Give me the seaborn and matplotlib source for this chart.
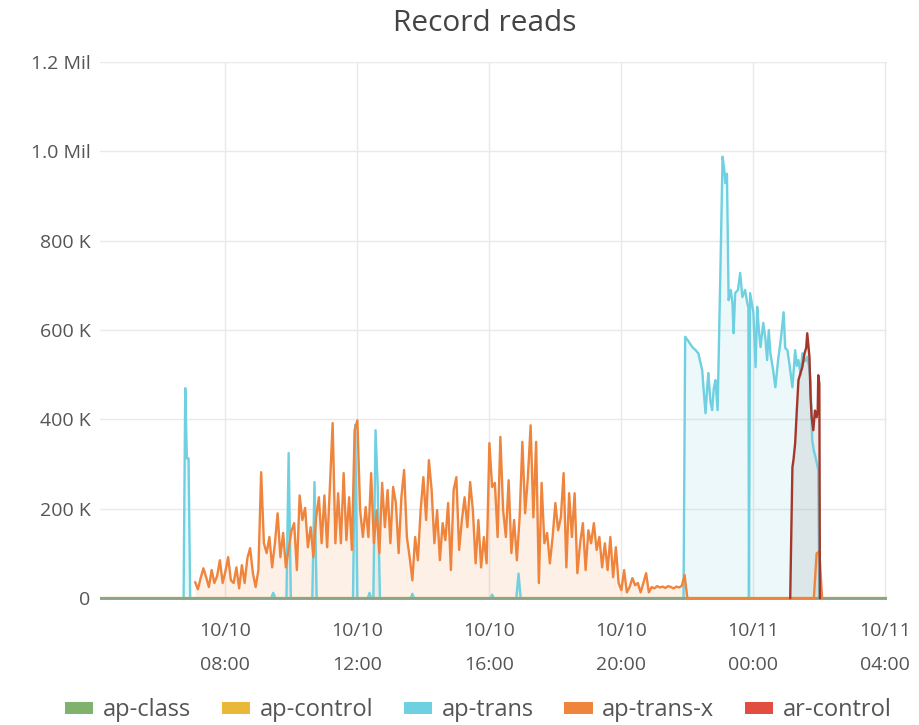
import matplotlib
matplotlib.use("Agg")
import matplotlib.pyplot as plt
import matplotlib.dates as mdates
from matplotlib.patches import Patch
from matplotlib.ticker import FixedLocator, FixedFormatter
import pandas as pd
import seaborn as sns

# ---------------- data ----------------
TITLE = "Record reads"
SERIES = ["ap-class", "ap-control", "ap-trans", "ap-trans-x", "ar-control"]
LEGEND_COLORS = ["#7eb26d", "#eab839", "#6ed0e0", "#ef843c", "#e24d42"]

Y_TICKS = [0, 200000, 400000, 600000, 800000, 1000000, 1200000]
Y_TICK_LABELS = ["0", "200 K", "400 K", "600 K", "800 K", "1.0 Mil", "1.2 Mil"]

RANGE = ["10/10 04:12", "10/11 04:03"]

# ap-class / ap-control: flat at zero over the whole range (values in K)
flat_times = ["10/10 04:12", "10/11 04:03"]
ap_class_k = [0, 0]
ap_control_k = [0, 0]

# ap-trans: daytime spikes (K)
trans_day_times = ["10/10 04:12", "10/10 06:44", "10/10 06:47", "10/10 06:50", "10/10 06:53",
                   "10/10 06:56", "10/10 09:23", "10/10 09:27", "10/10 09:31", "10/10 09:51",
                   "10/10 09:55", "10/10 09:59", "10/10 10:38", "10/10 10:42", "10/10 10:46",
                   "10/10 11:52", "10/10 11:56", "10/10 12:00", "10/10 12:19", "10/10 12:22",
                   "10/10 12:25", "10/10 12:29", "10/10 12:33", "10/10 12:37", "10/10 12:41",
                   "10/10 13:37", "10/10 13:40", "10/10 13:43", "10/10 16:02", "10/10 16:05",
                   "10/10 16:08", "10/10 16:49", "10/10 16:53", "10/10 16:57"]
trans_day_k = [0, 0, 470, 313, 313,
               0, 0, 12, 0, 0,
               325, 0, 0, 260, 0,
               0, 388, 0, 0, 12,
               0, 0, 376, 250, 0,
               0, 10, 0, 0, 8,
               0, 0, 55, 0]

# ap-trans: night block (K)
trans_night_times = ["10/10 21:53", "10/10 21:56", "10/10 22:02", "10/10 22:09", "10/10 22:15",
                     "10/10 22:20", "10/10 22:27", "10/10 22:30", "10/10 22:33", "10/10 22:36",
                     "10/10 22:38", "10/10 22:42", "10/10 22:45", "10/10 22:48", "10/10 22:51",
                     "10/10 22:55", "10/10 23:00", "10/10 23:04", "10/10 23:07", "10/10 23:09",
                     "10/10 23:12", "10/10 23:15", "10/10 23:19", "10/10 23:22", "10/10 23:24",
                     "10/10 23:27", "10/10 23:32", "10/10 23:36", "10/10 23:40", "10/10 23:45",
                     "10/10 23:49", "10/10 23:51", "10/10 23:52", "10/10 23:54", "10/11 00:00",
                     "10/11 00:04", "10/11 00:07", "10/11 00:10", "10/11 00:13", "10/11 00:18",
                     "10/11 00:22", "10/11 00:25", "10/11 00:28", "10/11 00:31", "10/11 00:36",
                     "10/11 00:40", "10/11 00:45", "10/11 00:50", "10/11 00:55", "10/11 00:58",
                     "10/11 01:02", "10/11 01:06", "10/11 01:11", "10/11 01:16", "10/11 01:19",
                     "10/11 01:22", "10/11 01:26", "10/11 01:29", "10/11 01:34", "10/11 01:38",
                     "10/11 01:41", "10/11 01:44", "10/11 01:47", "10/11 01:50", "10/11 01:53",
                     "10/11 01:58", "10/11 02:00", "10/11 04:03"]
trans_night_k = [0, 585, 575, 562, 555,
                 548, 510, 460, 414, 470,
                 504, 440, 421, 470, 488,
                 421, 728, 988, 960, 929,
                 950, 667, 690, 660, 593,
                 683, 690, 728, 674, 690,
                 660, 650, 0, 683, 640,
                 517, 652, 600, 562, 616,
                 580, 533, 600, 548, 510,
                 472, 533, 580, 640, 560,
                 555, 520, 472, 555, 520,
                 533, 500, 548, 530, 540,
                 520, 488, 354, 330, 316,
                 287, 0, 0]

# ap-trans-x: 5-minute samples starting 07:05 (K)
transx_start = "10/10 07:05"
transx_step_min = 5
transx_morning_k = [36, 20, 45, 67, 47, 25, 63, 34, 50, 85, 34, 60, 92, 40, 34, 69, 22,
                    74, 34, 90, 112, 56, 25, 63, 282, 123, 101, 137, 69, 123, 190, 92, 146, 69]
transx_midday_k = [110, 150, 168, 63, 230, 175, 202, 114, 159, 92, 181, 226, 123, 230, 114,
                   249, 392, 123, 235, 123, 280, 130, 226, 108, 376, 398, 197, 137, 204, 137,
                   280, 123, 197, 101, 258, 159, 242, 123]
transx_afternoon_k = [249, 213, 101, 226, 287, 137, 92, 40, 137, 85, 197, 271, 175, 309, 242,
                      123, 197, 85, 168, 130, 213, 63, 242, 271, 108, 175, 226, 159, 260, 197,
                      78, 175, 69, 137, 78, 347, 249]
transx_evening_k = [258, 137, 361, 197, 137, 264, 101, 175, 85, 181, 350, 190, 271, 387, 181,
                    350, 34, 258, 123, 146, 78, 137, 213, 152, 181, 280, 69, 235, 137, 235,
                    56, 123, 168, 63, 152, 123, 168, 108]
transx_late_k = [137, 69, 123, 63, 137, 47, 114, 34, 18, 63, 13, 25, 45, 29, 34, 13, 34, 56,
                 13, 25, 22, 27, 24, 26, 23, 27, 25, 22, 26, 24, 28, 52]
transx_tail_times = ["10/10 22:00", "10/11 01:50", "10/11 01:55", "10/11 02:00", "10/11 02:05"]
transx_tail_k = [0, 0, 100, 105, 0]

# ar-control (K)
arc_times = ["10/11 01:07", "10/11 01:11", "10/11 01:13", "10/11 01:16", "10/11 01:19",
             "10/11 01:22", "10/11 01:26", "10/11 01:29", "10/11 01:33", "10/11 01:36",
             "10/11 01:38", "10/11 01:42", "10/11 01:44", "10/11 01:46", "10/11 01:49",
             "10/11 01:52", "10/11 01:55", "10/11 01:57", "10/11 01:58", "10/11 02:00",
             "10/11 02:01"]
arc_k = [0, 293, 310, 347, 420,
         488, 505, 517, 548, 560,
         593, 540, 450, 405, 376,
         420, 405, 420, 499, 480,
         0]


# ---------------- assemble ----------------
def to_dt(ts):
    return pd.to_datetime(["2019/" + t for t in ts], format="%Y/%m/%d %H:%M")


def frame(times, vals_k, name):
    return pd.DataFrame({"time": times, "value": [v * 1000 for v in vals_k], "series": name})


grid_k = transx_morning_k + transx_midday_k + transx_afternoon_k + transx_evening_k + transx_late_k
grid_times = pd.date_range(to_dt([transx_start])[0], periods=len(grid_k),
                           freq=f"{transx_step_min}min")

df = pd.concat([
    frame(to_dt(flat_times), ap_class_k, "ap-class"),
    frame(to_dt(flat_times), ap_control_k, "ap-control"),
    frame(to_dt(trans_day_times + trans_night_times), trans_day_k + trans_night_k, "ap-trans"),
    frame(list(grid_times) + list(to_dt(transx_tail_times)), grid_k + transx_tail_k, "ap-trans-x"),
    frame(to_dt(arc_times), arc_k, "ar-control"),
], ignore_index=True)

# ---------------- style ----------------
sns.set_theme(style="white")
plt.rcParams["font.family"] = ["Open Sans", "DejaVu Sans"]

fig = plt.figure(figsize=(9.2, 7.25), dpi=100)
ax = fig.add_axes([100 / 920, (725 - 600) / 725, 787 / 920, (600 - 62) / 725])

line_style = {
    "ap-trans":   dict(color="#6ed0e0", z=2.0, lw=1.7, fill="#6ed0e0", alpha=0.13),
    "ap-control": dict(color="#eab839", z=2.2, lw=1.7, fill=None, alpha=0),
    "ap-class":   dict(color="#86a58c", z=2.4, lw=2.0, fill=None, alpha=0),
    "ap-trans-x": dict(color="#ef843c", z=3.0, lw=1.7, fill="#ef843c", alpha=0.12),
    "ar-control": dict(color="#a3382a", z=4.0, lw=1.7, fill="#a8a8a8", alpha=0.22),
}

for name in ["ap-trans", "ap-control", "ap-class", "ap-trans-x", "ar-control"]:
    sub = df[df["series"] == name]
    st = line_style[name]
    sns.lineplot(data=sub, x="time", y="value", ax=ax, color=st["color"], linewidth=st["lw"],
                 estimator=None, sort=False, legend=False, zorder=st["z"])
    if st["fill"]:
        ax.fill_between(sub["time"], sub["value"], 0, color=st["fill"], alpha=st["alpha"],
                        linewidth=0, zorder=1)

ax.set_xlim(to_dt([RANGE[0]])[0], to_dt([RANGE[1]])[0])
ax.set_ylim(-4000, 1200000)

ax.xaxis.set_major_locator(mdates.HourLocator(byhour=[0, 4, 8, 12, 16, 20]))
ax.xaxis.set_major_formatter(mdates.DateFormatter("%m/%d\n%H:%M"))
ax.yaxis.set_major_locator(FixedLocator(Y_TICKS))
ax.yaxis.set_major_formatter(FixedFormatter(Y_TICK_LABELS))

ax.set_xlabel("")
ax.set_ylabel("")
ax.grid(True, color="#e9e9e9", linewidth=1.0)
ax.set_axisbelow(True)
for sp in ax.spines.values():
    sp.set_visible(False)
ax.tick_params(axis="x", length=0, pad=16, labelsize=14, colors="#555555")
ax.tick_params(axis="y", length=0, pad=7, labelsize=14, colors="#555555")
for lab in ax.get_xticklabels():
    lab.set_linespacing(2.15)

fig.text(0.527, 0.968, TITLE, ha="center", va="center", fontsize=21.5, color="#444444")

handles = [Patch(facecolor=c, edgecolor="none") for c in LEGEND_COLORS]
leg = fig.legend(handles, SERIES, loc="center", bbox_to_anchor=(0.52, 0.02), ncol=5,
                 frameon=False, fontsize=17, handlelength=1.2, handleheight=0.45,
                 handletextpad=0.4, columnspacing=1.3, labelcolor="#555555")

fig.savefig("out.png", dpi=100)
